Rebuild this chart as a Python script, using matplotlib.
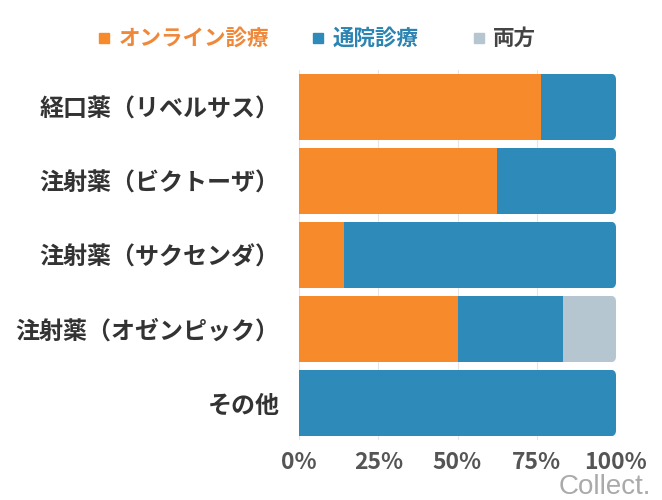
import matplotlib.pyplot as plt
from matplotlib.lines import Line2D
from matplotlib.patches import FancyBboxPatch

plt.rcParams['font.family'] = ['Noto Sans CJK JP', 'DejaVu Sans']

categories = ["経口薬（リベルサス）", "注射薬（ビクトーザ）", "注射薬（サクセンダ）",
              "注射薬（オゼンピック）", "その他"]
series_names = ["オンライン診療", "通院診療", "両方"]
online = [76.3, 62.5, 14.3, 50.0, 0.0]
clinic = [23.7, 37.5, 85.7, 33.3, 100.0]
both = [0.0, 0.0, 0.0, 16.7, 0.0]
xticks = [0, 25, 50, 75, 100]
xticklabels = ["0%", "25%", "50%", "75%", "100%"]

colors = ["#F78A2B", "#2E8AB8", "#B6C6D1"]
text_colors = ["#F0883A", "#2C84B2", "#444444"]

fig = plt.figure(figsize=(6.62, 5.0), dpi=100)
ax = fig.add_axes([0.4517, 0.12, 0.4788, 0.74])

y = list(range(len(categories)))
ax.set_ylim(len(categories) - 0.5, -0.5)
ax.set_xlim(0, 100)

# rounded right ends: clip each row with a rounded box
clips = []
for yi in y:
    clip = FancyBboxPatch((-5, yi - 0.45), 105, 0.9,
                          boxstyle="round,pad=0,rounding_size=1.8",
                          mutation_aspect=0.043, transform=ax.transData)
    clips.append(clip)

left = [0.0] * len(categories)
for vals, c in zip([online, clinic, both], colors):
    bars = ax.barh(y, vals, left=left, height=0.9, color=c, zorder=2)
    for b, clip in zip(bars, clips):
        b.set_clip_path(clip)
    left = [l + v for l, v in zip(left, vals)]

ax.set_yticks(y)
ax.set_yticklabels(categories, fontsize=17.3, fontweight='bold', color='#333333')
ax.set_xticks(xticks)
ax.set_xticklabels(xticklabels, fontsize=16.5, fontweight='bold', color='#555555')
ax.tick_params(length=0)
ax.tick_params(axis='x', pad=8)
ax.tick_params(axis='y', pad=14)
ax.grid(axis='x', color='#e6e6e6', linewidth=0.8, zorder=0)
for s in ax.spines.values():
    s.set_visible(False)

# legend drawn manually along the top
legend_x = [0.157, 0.480, 0.723]
for name, c, tc, lx in zip(series_names, colors, text_colors, legend_x):
    fig.add_artist(Line2D([lx], [0.924], marker='s', markersize=6.5, color=c,
                          transform=fig.transFigure))
    fig.text(lx + 0.022, 0.924, name, color=tc, fontsize=15.5, fontweight='bold',
             va='center', ha='left')

fig.text(0.983, 0.0, "Collect.", color='#aaaaaa', fontsize=20, ha='right', va='bottom',
         family=['Liberation Sans', 'DejaVu Sans'])

fig.savefig("out.png", dpi=100)
